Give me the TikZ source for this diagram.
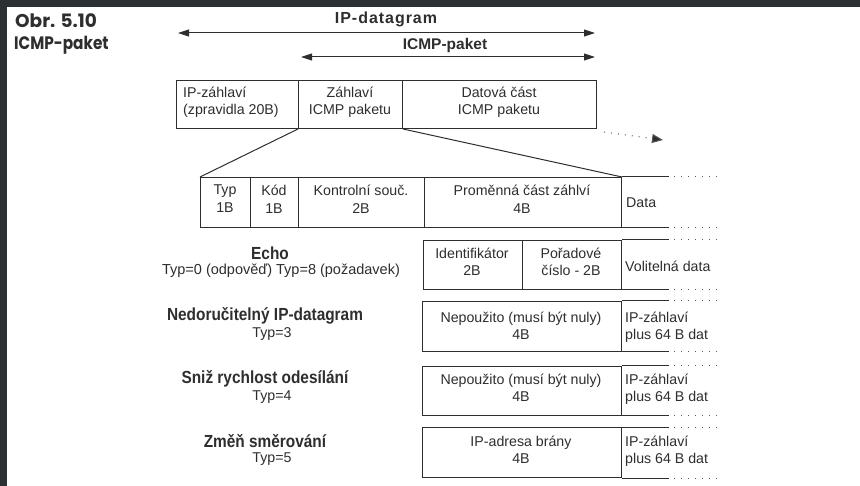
\documentclass[tikz,border=0pt]{standalone}
\usepackage{fontspec}
\setmainfont{Liberation Sans}
\newfontfamily\lblfont[FakeStretch=0.88]{Liberation Sans}
\newfontfamily\spacedfont[LetterSpace=6]{Liberation Sans}
\newfontfamily\ttlfont{Poppins}
\newfontfamily\ttlnarrow[FakeStretch=0.85]{Poppins}
\usetikzlibrary{arrows.meta}
\definecolor{frame}{HTML}{2C3033}
\definecolor{ink}{HTML}{2E2E2E}
\begin{document}
\begin{tikzpicture}[x=1pt,y=-1pt,
  cell/.style={draw=ink, line width=1pt, anchor=north west, inner sep=0pt},
  rule/.style={draw=ink, line width=1pt},
  dotline/.style={draw=ink!80, line width=1pt, dash pattern=on 1pt off 6pt},
  biarrow/.style={draw=ink, line width=1pt,
    {Triangle[length=11pt,width=7pt]}-{Triangle[length=11pt,width=7pt]}},
  txt/.style={text=ink, inner sep=0pt, align=center,
    font=\fontsize{14.2}{#1}\selectfont},
  txt/.default=17,
  ltxt/.style={txt=#1, align=left, anchor=west},
  ltxt/.default=17,
  lbl/.style={text=ink, inner sep=0pt,
    font=\lblfont\bfseries\fontsize{17.5}{20}\selectfont},
  ttl/.style={text=ink, inner sep=0pt, anchor=base west},
  arrlbl/.style={text=ink, inner sep=0pt}]

\useasboundingbox (0,0) rectangle (860,486);
\fill[white] (0,0) rectangle (860,486);
\fill[frame] (0,0) rectangle (860,7);
\fill[frame] (0,0) rectangle (7,486);

% figure caption
\node[ttl, font=\ttlfont\bfseries\fontsize{18.5}{20}\selectfont] (obr) at (15,28) {Obr. 5.10};
\node[ttl, font=\ttlnarrow\bfseries\fontsize{18}{20}\selectfont] (ttlname) at (14,50) {ICMP-paket};

% extent arrows
\coordinate (ipL) at (178,33);
\coordinate (ipR) at (595,33);
\coordinate (icL) at (301,57);
\coordinate (icR) at (595,57);
\draw[biarrow] (ipL) -- (ipR);
\draw[biarrow] (icL) -- (icR);
\node[arrlbl, font=\spacedfont\bfseries\fontsize{16}{18}\selectfont] (iplbl) at (386,19) {IP-datagram};
\node[arrlbl, font=\bfseries\fontsize{15.5}{18}\selectfont] (iclbl) at (445,45) {ICMP-paket};

% IP datagram
\node[cell, minimum width=122pt, minimum height=48pt] (ipcell) at (176,80) {};
\node[cell, minimum width=104pt, minimum height=48pt] (zcell) at (298,80) {};
\node[cell, minimum width=194pt, minimum height=48pt] (dcell) at (402,80) {};
\node[ltxt=16.5] (iptxt) at (183,102) {IP-záhlaví\\(zpravidla 20B)};
\node[txt=16.5] (ztxt) at (350,102) {Záhlaví\\ICMP paketu};
\node[txt=16.5] (dtxt) at (499,102) {Datová část\\ICMP paketu};

% continuation
\coordinate (contA) at (604,132);
\coordinate (contB) at (663,140);
\draw[dotline, -{Triangle[length=11pt,width=9pt,fill=ink]}] (contA) -- (contB);

% ICMP header
\node[cell, minimum width=50pt, minimum height=50pt] (typ) at (200,177) {};
\node[cell, minimum width=48pt, minimum height=50pt] (kod) at (250,177) {};
\node[cell, minimum width=126pt, minimum height=50pt] (kontrol) at (298,177) {};
\node[cell, minimum width=197pt, minimum height=50pt] (prom) at (424,177) {};
\node[txt=18] (typtxt) at (225,199) {Typ\\1B};
\node[txt=18] (kodtxt) at (274,199) {Kód\\1B};
\node[txt=18] (kontxt) at (361,199) {Kontrolní souč.\\2B};
\node[txt=18] (promtxt) at (522,199) {Proměnná část záhlví\\4B};
\node[ltxt] (datatxt) at (626,203) {Data};

\draw[rule] (zcell.south west) -- (typ.north west);
\draw[rule] (zcell.south east) -- (prom.north east);

% message variants
\node[cell, minimum width=99pt, minimum height=49pt] (idf) at (423,240) {};
\node[cell, minimum width=99pt, minimum height=49pt] (por) at (522,240) {};
\node[txt] (idftxt) at (472,262) {Identifikátor\\2B};
\node[txt] (portxt) at (571,262) {Pořadové\\číslo - 2B};
\node[ltxt] (voltxt) at (625,266) {Volitelná data};

\node[cell, minimum width=199pt, minimum height=50pt] (nep1) at (422,301) {};
\node[cell, minimum width=199pt, minimum height=49pt] (nep2) at (422,366) {};
\node[cell, minimum width=199pt, minimum height=50pt] (brana) at (422,427) {};
\node[txt=17.5] (nep1txt) at (521,326) {Nepoužito (musí být nuly)\\4B};
\node[txt=17] (nep2txt) at (521,388) {Nepoužito (musí být nuly)\\4B};
\node[txt=17] (branatxt) at (521,450) {IP-adresa brány\\4B};
\node[ltxt] (ip1txt) at (625,327) {IP-záhlaví\\plus 64 B dat};
\node[ltxt] (ip2txt) at (625,389) {IP-záhlaví\\plus 64 B dat};
\node[ltxt] (ip3txt) at (625,451) {IP-záhlaví\\plus 64 B dat};

% open-ended data fields
\foreach \c in {prom,por,nep1,nep2,brana}{
  \foreach \s in {north east,south east}{
    \draw[rule] (\c.\s) -- ++(47,0) coordinate (e);
    \draw[dotline] ([xshift=5pt]e) -- ++(47,0);
  }
}

% message names
\node[lbl] (echo) at (270,253) {Echo};
\node[txt, font=\fontsize{14.5}{17}\selectfont] (echotyp) at (281,271) {Typ=0 (odpověď) Typ=8 (požadavek)};
\node[lbl] (nedor) at (265,316) {Nedoručitelný IP-datagram};
\node[txt] (nedortyp) at (272,334) {Typ=3};
\node[lbl] (sniz) at (265,379) {Sniž rychlost odesílání};
\node[txt] (sniztyp) at (272,397) {Typ=4};
\node[lbl] (zmen) at (265,441) {Změň směrování};
\node[txt] (zmentyp) at (272,459) {Typ=5};
\end{tikzpicture}
\end{document}
